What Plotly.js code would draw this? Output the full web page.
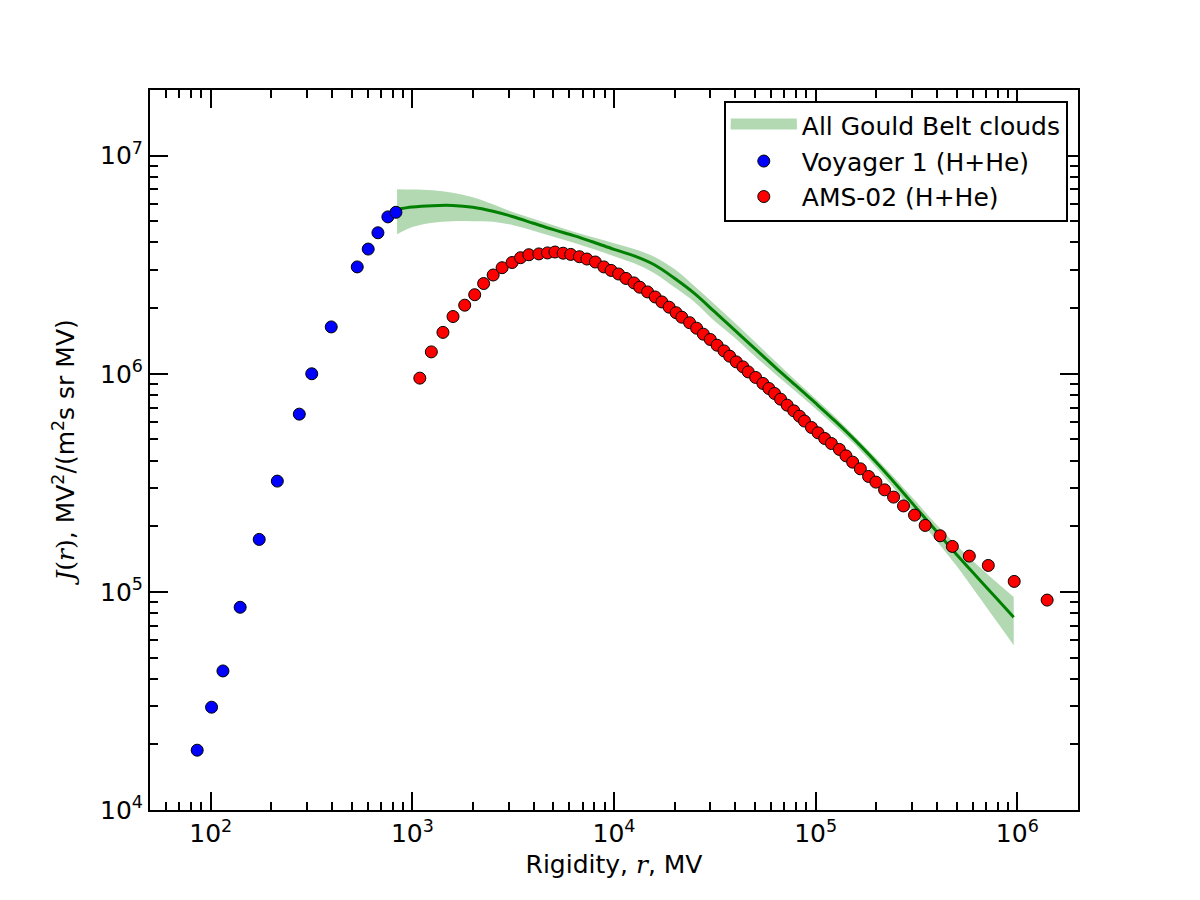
<!DOCTYPE html>
<html><head><meta charset="utf-8">
<script src="https://cdn.plot.ly/plotly-3.0.1.min.js"></script>
<style>html,body{margin:0;padding:0;background:#fff}</style>
</head><body>
<div id="chart" style="width:1200px;height:900px"></div>
<script>
// Voyager 1 (H+He)
const voyagerR = [85.7, 101, 115, 140, 174, 214, 275, 317, 396, 533, 604, 675, 756, 829];
const voyagerJ = [1.88e4, 2.96e4, 4.34e4, 8.5e4, 1.74e5, 3.22e5, 6.53e5, 1.00e6, 1.64e6, 3.09e6, 3.73e6, 4.43e6, 5.24e6, 5.50e6];

// AMS-02 (H+He)
const amsR = [1089, 1242, 1418, 1591, 1818, 2038, 2257, 2516, 2787, 3123,
  3440, 3781, 4238, 4679, 5096, 5595, 6100, 6737, 7338, 8082,
  8905, 9676, 10537, 11463, 12570, 13415, 14669, 16004, 17282, 18773,
  20330, 21694, 23709, 25679, 27745, 30020, 32455, 35128, 37470, 40400,
  43599, 46300, 50390, 54740, 58630, 62570, 66970, 72230, 77930, 83150,
  88020, 95330, 102780, 110900, 119700, 131140, 141360, 152600, 166600, 183000,
  199000, 219700, 243500, 272700, 309200, 349200, 414200, 476400, 578200, 718100,
  965400, 1406000];
const amsJ = [9.55e5, 1.26e6, 1.548e6, 1.83e6, 2.063e6, 2.304e6, 2.593e6, 2.837e6, 3.064e6, 3.237e6,
  3.405e6, 3.514e6, 3.544e6, 3.582e6, 3.616e6, 3.571e6, 3.526e6, 3.441e6, 3.358e6, 3.254e6,
  3.09e6, 2.978e6, 2.867e6, 2.736e6, 2.61e6, 2.494e6, 2.373e6, 2.25e6, 2.135e6, 2.02e6,
  1.905e6, 1.817e6, 1.715e6, 1.618e6, 1.519e6, 1.436e6, 1.352e6, 1.273e6, 1.204e6, 1.134e6,
  1.0755e6, 1.02e6, 9.62e5, 9.03e5, 8.56e5, 8.12e5, 7.65e5, 7.18e5, 6.76e5, 6.39e5,
  6.07e5, 5.675e5, 5.36e5, 5.05e5, 4.79e5, 4.50e5, 4.205e5, 3.934e5, 3.667e5, 3.383e5,
  3.186e5, 2.937e5, 2.72e5, 2.478e5, 2.249e5, 2.017e5, 1.808e5, 1.616e5, 1.459e5, 1.322e5,
  1.117e5, 9.17e4];

// All Gould Belt clouds model
const gouldR = [840, 1000, 1259, 1585, 1995, 2512, 3162, 3981, 5012, 6310, 7943,
  10000, 12589, 15849, 19953, 25119, 31623, 39811, 50119, 63096, 79433,
  100000, 125893, 158489, 199526, 251189, 316228, 398107, 501187, 630957, 794328, 960000];
const gouldJ = [5.68e6, 5.82e6, 5.90e6, 5.91e6, 5.80e6, 5.56e6, 5.25e6, 4.90e6, 4.58e6, 4.30e6, 4.01e6,
  3.72e6, 3.47e6, 3.16e6, 2.74e6, 2.33e6, 1.92e6, 1.58e6, 1.30e6, 1.07e6, 8.87e5,
  7.33e5, 6.03e5, 4.91e5, 3.93e5, 3.10e5, 2.42e5, 1.89e5, 1.48e5, 1.17e5, 9.27e4, 7.66e4];
const gouldHigh = [7.02e6, 7.00e6, 6.94e6, 6.76e6, 6.45e6, 5.99e6, 5.50e6, 5.14e6, 4.80e6, 4.48e6, 4.21e6,
  3.97e6, 3.73e6, 3.44e6, 3.02e6, 2.52e6, 2.08e6, 1.71e6, 1.40e6, 1.14e6, 9.35e5,
  7.69e5, 6.30e5, 5.09e5, 4.10e5, 3.27e5, 2.58e5, 2.03e5, 1.63e5, 1.33e5, 1.10e5, 9.47e4];
const gouldLow = [4.36e6, 4.71e6, 4.93e6, 5.01e6, 5.01e6, 4.98e6, 4.80e6, 4.53e6, 4.25e6, 3.99e6, 3.72e6,
  3.46e6, 3.21e6, 2.89e6, 2.49e6, 2.13e6, 1.74e6, 1.46e6, 1.20e6, 9.96e5, 8.32e5,
  6.92e5, 5.72e5, 4.68e5, 3.72e5, 2.90e5, 2.23e5, 1.71e5, 1.31e5, 9.77e4, 7.27e4, 5.69e4];

// Axis ticks
const xTickVals = [1e2, 1e3, 1e4, 1e5, 1e6];
const xTickText = ['10<sup>2</sup>', '10<sup>3</sup>', '10<sup>4</sup>', '10<sup>5</sup>', '10<sup>6</sup>'];
const yTickVals = [1e4, 1e5, 1e6, 1e7];
const yTickText = ['10<sup>4</sup>', '10<sup>5</sup>', '10<sup>6</sup>', '10<sup>7</sup>'];
const xRange = [50, 2e6];
const yRange = [1e4, 2e7];

function minorTicks(lo, hi) {
  const out = [];
  for (let e = Math.floor(Math.log10(lo)); e <= Math.ceil(Math.log10(hi)); e++) {
    for (let m = 2; m <= 9; m++) {
      const v = m * Math.pow(10, e);
      if (v > lo && v < hi) out.push(v);
    }
  }
  return out;
}

const FONT = 'DejaVu Sans, sans-serif';
const FS = 25;
const bandColor = 'rgba(0,128,0,0.3)';
const bandSolid = '#b3d9b3';

const traces = [
  { x: [null], y: [null], type: 'scatter', mode: 'lines', fill: 'toself', fillcolor: bandSolid,
    line: { width: 10, color: bandSolid }, name: 'All Gould Belt clouds', legendgroup: 'g1' },
  { x: gouldR, y: gouldHigh, type: 'scatter', mode: 'lines', line: { width: 0, color: bandColor, shape: 'spline', smoothing: 1 },
    showlegend: false, hoverinfo: 'skip' },
  { x: gouldR, y: gouldLow, type: 'scatter', mode: 'lines', line: { width: 0, color: bandColor, shape: 'spline', smoothing: 1 },
    fill: 'tonexty', fillcolor: bandColor, showlegend: false },
  { x: gouldR, y: gouldJ, type: 'scatter', mode: 'lines', line: { width: 3, color: '#008000', shape: 'spline', smoothing: 1 },
    showlegend: false },
  { x: voyagerR, y: voyagerJ, type: 'scatter', mode: 'markers', name: 'Voyager 1 (H+He)', legendgroup: 'g2',
    marker: { size: 12, color: '#0000ff', line: { color: '#000', width: 1 } } },
  { x: amsR, y: amsJ, type: 'scatter', mode: 'markers', name: 'AMS-02 (H+He)', legendgroup: 'g3',
    marker: { size: 12, color: '#ff0000', line: { color: '#000', width: 1 } } }
];

const axisCommon = {
  type: 'log', showline: true, linecolor: '#000', linewidth: 2, mirror: 'allticks',
  ticks: 'inside', ticklen: 18, tickwidth: 2, tickcolor: '#000', showgrid: false, zeroline: false,
  tickfont: { family: FONT, size: FS, color: '#000' }, automargin: false
};

const layout = {
  width: 1200, height: 900,
  margin: { l: 150, r: 122, t: 90, b: 90 },
  paper_bgcolor: '#fff', plot_bgcolor: '#fff',
  font: { family: FONT, size: FS, color: '#000' },
  xaxis: Object.assign({}, axisCommon, {
    range: xRange.map(Math.log10), tickmode: 'array', tickvals: xTickVals, ticktext: xTickText,
    minor: { tickmode: 'array', tickvals: minorTicks(xRange[0], xRange[1]), ticks: 'inside', ticklen: 8, tickwidth: 2, tickcolor: '#000' },
    title: { text: 'Rigidity, <span style="font-family:DejaVu Serif"><i>r</i></span>, MV', font: { family: FONT, size: FS, color: '#000' }, standoff: 8 }
  }),
  yaxis: Object.assign({}, axisCommon, {
    range: yRange.map(Math.log10), tickmode: 'array', tickvals: yTickVals, ticktext: yTickText,
    minor: { tickmode: 'array', tickvals: minorTicks(yRange[0], yRange[1]), ticks: 'inside', ticklen: 8, tickwidth: 2, tickcolor: '#000' },
    title: { text: '<span style="font-family:DejaVu Serif"><i>J</i>(<i>r</i>)</span>, MV<sup>2</sup>/(m<sup>2</sup>s sr MV)', font: { family: FONT, size: FS, color: '#000' }, standoff: 18 }
  }),
  legend: {
    x: 0.989, y: 0.985, xanchor: 'right', yanchor: 'top',
    bgcolor: '#fff', bordercolor: '#000', borderwidth: 2,
    font: { family: FONT, size: FS, color: '#000' },
    tracegroupgap: 0, itemwidth: 66
  },
  showlegend: true
};

Plotly.newPlot('chart', traces, layout, { displayModeBar: false, staticPlot: true });
</script>
</body></html>
